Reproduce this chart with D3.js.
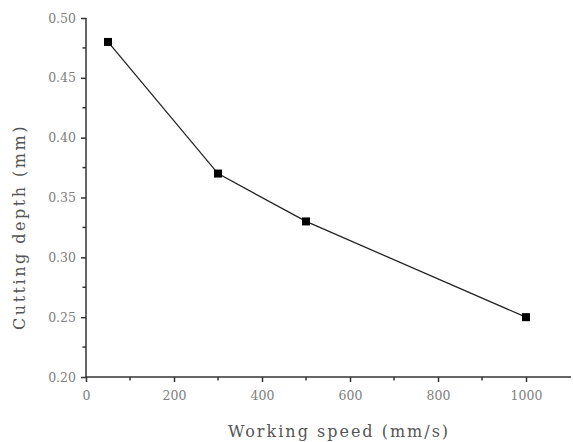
<!DOCTYPE html>
<html>
<head>
<meta charset="utf-8">
<script src="https://cdn.jsdelivr.net/npm/d3@7"></script>
<style>
  body { margin: 0; background: #fff; }
  svg text { font-family: "DejaVu Serif", "Liberation Serif", serif; }
</style>
</head>
<body>
<div id="chart"></div>
<script>
// data
var speeds = [50, 300, 500, 1000];
var depths = [0.48, 0.37, 0.33, 0.25];
var xTicks = [0, 200, 400, 600, 800, 1000];
var yTicks = [0.20, 0.25, 0.30, 0.35, 0.40, 0.45, 0.50];

var width = 573, height = 442;
var m = { left: 86, right: 570, top: 18, bottom: 377 };

var svg = d3.select("#chart").append("svg").attr("width", width).attr("height", height);

var x = d3.scaleLinear().domain([0, 1100]).range([m.left, m.right]);
var y = d3.scaleLinear().domain([0.20, 0.50]).range([m.bottom, m.top]);

var axisColor = "#333";
var labelColor = "#808080";

// minor ticks
var xMinor = d3.range(100, 1100, 200);
var yMinor = d3.range(0.225, 0.5, 0.05);

svg.append("g").selectAll("line").data(xMinor).enter().append("line")
   .attr("x1", function(d){ return x(d); }).attr("x2", function(d){ return x(d); })
   .attr("y1", m.bottom).attr("y2", m.bottom + 3.5)
   .attr("stroke", axisColor).attr("stroke-width", 1.5);

svg.append("g").selectAll("line").data(yMinor).enter().append("line")
   .attr("y1", function(d){ return y(d); }).attr("y2", function(d){ return y(d); })
   .attr("x1", m.left).attr("x2", m.left - 3.5)
   .attr("stroke", axisColor).attr("stroke-width", 1.5);

// x axis
var xAxis = svg.append("g").attr("transform", "translate(0," + m.bottom + ")")
   .call(d3.axisBottom(x).tickValues(xTicks).tickSize(5).tickPadding(9).tickFormat(d3.format("d")));
xAxis.select(".domain").attr("stroke", axisColor).attr("stroke-width", 1.5)
   .attr("d", "M" + m.left + ",0H" + (m.right + 1));
xAxis.selectAll(".tick line").attr("stroke", axisColor).attr("stroke-width", 1.5);
xAxis.selectAll(".tick text").attr("fill", labelColor).style("font-size", "12.5px");

// y axis
var yAxis = svg.append("g").attr("transform", "translate(" + m.left + ",0)")
   .call(d3.axisLeft(y).tickValues(yTicks).tickSize(5).tickPadding(5).tickFormat(d3.format(".2f")));
yAxis.select(".domain").attr("stroke", axisColor).attr("stroke-width", 1.5)
   .attr("d", "M0," + m.top + "V" + m.bottom);
yAxis.selectAll(".tick line").attr("stroke", axisColor).attr("stroke-width", 1.5);
yAxis.selectAll(".tick text").attr("fill", labelColor).style("font-size", "12.5px");

// line
var pts = speeds.map(function(s, i){ return [s, depths[i]]; });
svg.append("path").datum(pts)
   .attr("d", d3.line().x(function(d){ return x(d[0]); }).y(function(d){ return y(d[1]); }))
   .attr("fill", "none").attr("stroke", "#222").attr("stroke-width", 1.3);

svg.selectAll("rect.pt").data(pts).enter().append("rect")
   .attr("class", "pt")
   .attr("x", function(d){ return x(d[0]) - 4; })
   .attr("y", function(d){ return y(d[1]) - 4; })
   .attr("width", 8).attr("height", 8)
   .attr("fill", "#000");

// axis titles
svg.append("text").attr("x", 339).attr("y", 437)
   .attr("text-anchor", "middle").attr("fill", "#555").style("font-size", "16px")
   .style("letter-spacing", "2px")
   .text("Working speed (mm/s)");

svg.append("text").attr("transform", "translate(25,227) rotate(-90)")
   .attr("text-anchor", "middle").attr("fill", "#555").style("font-size", "16px")
   .style("letter-spacing", "2.5px")
   .text("Cutting depth (mm)");
</script>
</body>
</html>
